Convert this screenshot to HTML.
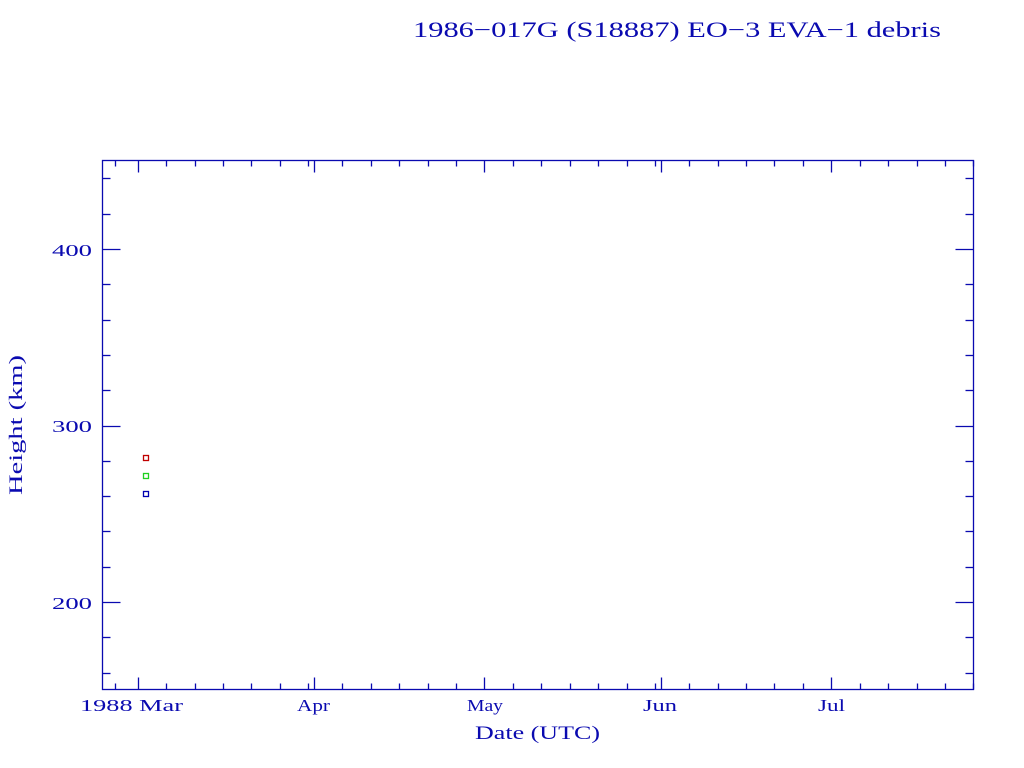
<!DOCTYPE html>
<html><head><style>body{margin:0;background:#fff}svg{display:block}</style></head>
<body>
<svg id="s" width="1024" height="768" xmlns="http://www.w3.org/2000/svg" font-family="Liberation Serif, serif" fill="#0a0ab0">
<text x="413" y="37" font-size="22" textLength="528" lengthAdjust="spacingAndGlyphs">1986−017G (S18887) EO−3 EVA−1 debris</text>
<rect x="102.5" y="160.5" width="871" height="529" fill="none" stroke="#0a0ab0" stroke-width="1.3"/>
<g id="t" stroke="#0a0ab0" stroke-width="1.3"></g>
<g font-size="17">
<text x="52" y="256" textLength="40" lengthAdjust="spacingAndGlyphs">400</text>
<text x="52" y="432" textLength="40" lengthAdjust="spacingAndGlyphs">300</text>
<text x="52" y="609" textLength="40" lengthAdjust="spacingAndGlyphs">200</text>
<text x="80" y="711" textLength="103" lengthAdjust="spacingAndGlyphs">1988 Mar</text>
<text x="297" y="711" textLength="33" lengthAdjust="spacingAndGlyphs">Apr</text>
<text x="467" y="711" textLength="36" lengthAdjust="spacingAndGlyphs">May</text>
<text x="643" y="711" textLength="34" lengthAdjust="spacingAndGlyphs">Jun</text>
<text x="818" y="711" textLength="27" lengthAdjust="spacingAndGlyphs">Jul</text>
<text x="475" y="739" font-size="19" textLength="125" lengthAdjust="spacingAndGlyphs">Date (UTC)</text>
<text transform="translate(22,495) rotate(-90)" font-size="19" textLength="140" lengthAdjust="spacingAndGlyphs">Height (km)</text>
</g>
<rect x="143.5" y="455.5" width="5" height="5" fill="#fff" stroke="#c00000" stroke-width="1.3"/>
<rect x="143.5" y="473.5" width="5" height="5" fill="#fff" stroke="#20d020" stroke-width="1.3"/>
<rect x="143.5" y="491.5" width="5" height="5" fill="#fff" stroke="#0000b0" stroke-width="1.3"/>
</svg>
<script>
var g=document.getElementById('t'),h='';
function L(a,b,c,d){h+='<line x1="'+a+'" y1="'+b+'" x2="'+c+'" y2="'+d+'"/>';}
var x0=137.7,pd=5.685;
var months=[[-29,29],[0,31],[31,30],[61,31],[92,30],[122,31]];
months.forEach(function(m){
 for(var d=1;d<=m[1];d+=5){
  var x=x0+(m[0]+d-1)*pd; if(x<103||x>973.5)continue;
  var len=(d==1)?12:6; x=Math.round(x)+0.5;
  L(x,689.5,x,689.5-len);L(x,160.5,x,160.5+len);
 }
});
for(var v=160;v<=440;v+=20){
 var y=602+(200-v)*1.765; y=Math.round(y)+0.5;
 var len=(v%100==0)?18:8;
 L(102.5,y,102.5+len,y);L(973.5,y,973.5-len,y);
}
g.innerHTML=h;
</script>
</body></html>
